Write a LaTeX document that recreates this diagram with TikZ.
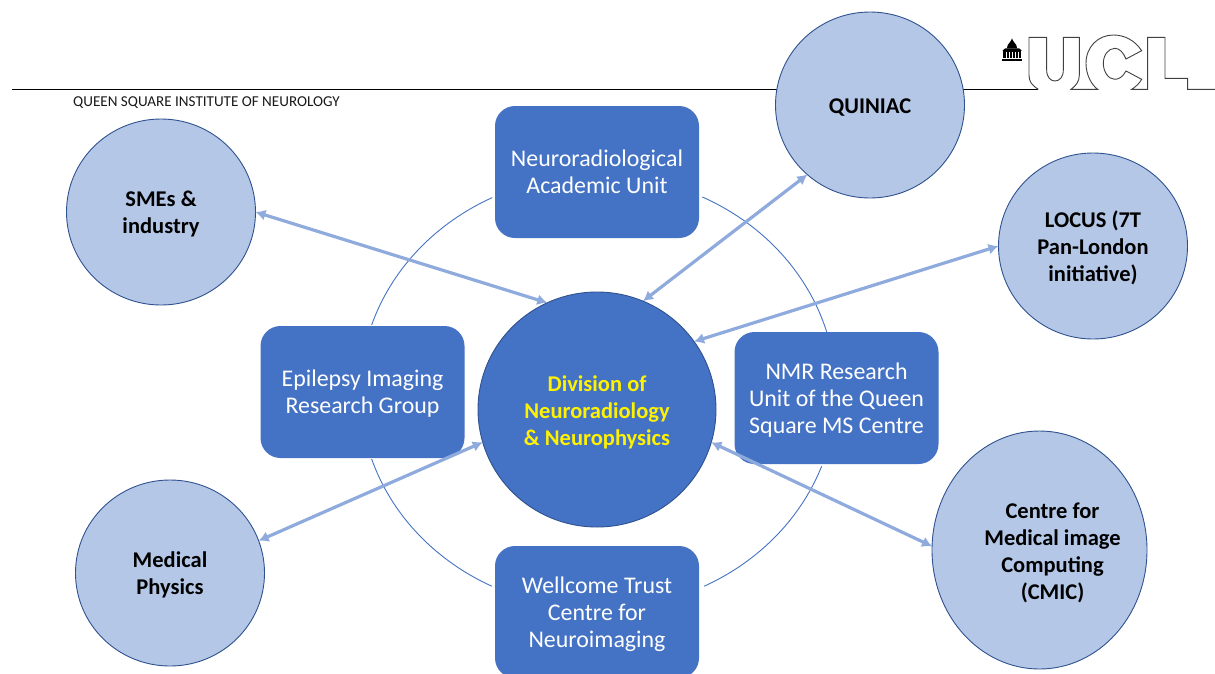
\documentclass[tikz,border=0pt]{standalone}
\usepackage{fontspec}
\setmainfont{Carlito}
\usetikzlibrary{arrows.meta,shapes.geometric}
\definecolor{darkblue}{HTML}{4472C4}
\definecolor{lightblue}{HTML}{B4C7E7}
\definecolor{arrowblue}{HTML}{8FAADC}
\definecolor{edgeblue}{HTML}{2F528F}
\NewDocumentCommand{\ctext}{O{8pt}O{0pt}m}{\raisebox{-#1}[0pt][0pt]{\makebox[0pt]{\hspace*{#2}\begin{tabular}{@{}c@{}}#3\end{tabular}}}}
\tikzset{
  x=1pt,y=-1pt,
  unitbox/.style={draw=none,fill=darkblue,rounded corners=20pt,minimum width=204pt,minimum height=132pt,
    text=white,font=\fontsize{23.9}{27}\selectfont,outer sep=0pt,inner sep=0pt},
  partner/.style={ellipse,draw=edgeblue,line width=0.9pt,fill=lightblue,minimum width=189pt,minimum height=186pt,
    text=black,font=\fontsize{22.5}{27}\selectfont\bfseries,outer sep=0pt,inner sep=0pt},
  hub/.style={ellipse,draw=edgeblue,line width=0.9pt,fill=darkblue,minimum width=238pt,minimum height=235pt,
    text=yellow,font=\fontsize{22.5}{27}\selectfont\bfseries,outer sep=0pt,inner sep=0pt},
  link/.style={draw=arrowblue,line width=3.2pt,{Latex[length=10pt,width=11pt]}-{Latex[length=10pt,width=11pt]}},
  ring/.style={draw=darkblue,line width=0.9pt},
  rule/.style={draw=black,line width=0.9pt},
  logoline/.style={draw=black!75,line width=0.9pt,line join=miter}
}
\begin{document}
\begin{tikzpicture}
\useasboundingbox (0,0) rectangle (1215,673);
% header rule
\draw[rule] (12,89.5) -- (1038.3,89.5);
\node[anchor=west,inner sep=0pt,font=\fontsize{15.1}{18}\selectfont,text=black!90] (inst) at (73,103) {QUEEN SQUARE INSTITUTE OF NEUROLOGY};
% UCL logo
\begin{scope}[shift={(960,20)},x=0.3333pt,y=-0.3333pt]
  \draw[logoline] (235,208) .. controls (215,195) and (207,185) .. (207,165) -- (207,52) -- (260,52) -- (260,150)
    .. controls (260,172) and (272,183) .. (285,183) .. controls (298,183) and (310,172) .. (310,150)
    -- (310,52) -- (358,52) -- (358,165) .. controls (358,185) and (348,197) .. (333,208) -- (413,208)
    .. controls (395,195) and (378,165) .. (378,130) .. controls (378,80) and (415,45) .. (460,45)
    .. controls (495,45) and (525,62) .. (545,92) -- (498,117)
    .. controls (490,97) and (478,85) .. (465,85) .. controls (445,85) and (430,105) .. (430,130)
    .. controls (430,155) and (445,178) .. (465,178) .. controls (478,178) and (490,168) .. (498,153)
    -- (545,178) .. controls (538,190) and (528,200) .. (515,208) -- (563,208) -- (563,52) -- (615,52)
    -- (615,175) -- (683,175) -- (683,208) -- (765,208);
  \fill[black] (127,124) rectangle (186,118);
  \fill[black] (130,115) rectangle (183,90);
  \fill[black] (127,92) -- (186,92) -- (177,85) -- (136,85) -- cycle;
  \fill[black] (141,85) .. controls (141,72) and (150,70) .. (153,62) -- (156,55) -- (159,62) .. controls (162,70) and (171,72) .. (171,85) -- cycle;
  \foreach \cx in {137,146,155,164,173}{\fill[white] (\cx,96) rectangle ++(4,17);}
\end{scope}
% ring segments
\foreach \ta/\tb in {-64/-16, 20/63.5, 116.5/162, 198/243.6}{
  \draw[ring] plot[domain=\ta:\tb,samples=40,smooth] ({598+238*cos(\x)},{392+217*sin(\x)});
}
% units
\node[unitbox] (nau) at (597,172) {\ctext[9pt]{Neuroradiological\\Academic Unit}};
\node[unitbox] (eir) at (362.5,392) {\ctext[9pt]{Epilepsy Imaging\\Research Group}};
\node[unitbox] (nmr) at (836.5,398) {\ctext[9.5pt]{NMR Research\\Unit of the Queen\\Square MS Centre}};
\node[unitbox] (wtc) at (597,612) {\ctext[9.5pt]{Wellcome Trust\\Centre for\\Neuroimaging}};
% centre
\node[hub] (div) at (597,409.5) {\ctext[8.5pt]{Division of\\Neuroradiology\\\&\ Neurophysics}};
% partners
\node[partner] (sme) at (161,212) {\ctext{SMEs \&\\industry}};
\node[partner] (qui) at (870,105) {\ctext{QUINIAC}};
\node[partner] (loc) at (1093,246) {\ctext{LOCUS (7T\\Pan-London\\initiative)}};
\node[partner] (med) at (170,573) {\ctext{Medical\\Physics}};
\node[partner,minimum width=215pt,minimum height=238pt] (cmi) at (1039.5,550) {\ctext[8.5pt][26pt]{Centre for\\Medical image\\Computing\\(CMIC)}};
% links
\draw[link] (sme.0) -- (div.115.7);
\draw[link] (qui.228) -- (div.67);
\draw[link] (loc.180) -- (div.35.6);
\draw[link] (cmi.178) -- (div.-16);
\draw[link] (med.20) -- (div.196.8);
\end{tikzpicture}
\end{document}
